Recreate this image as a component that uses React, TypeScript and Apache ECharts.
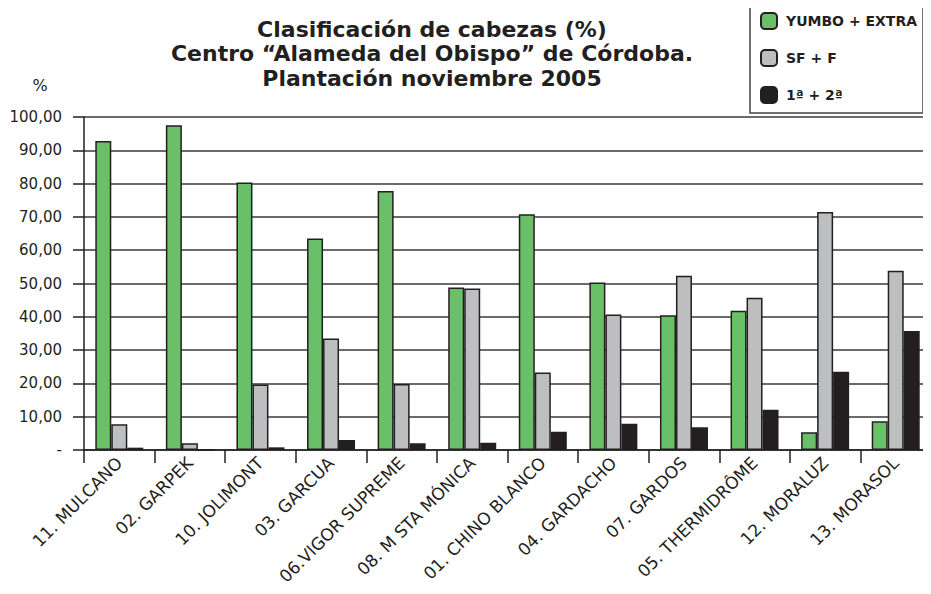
import React, { useEffect, useRef } from "react";
import * as echarts from "echarts";

const categories = [
  "11. MULCANO",
  "02. GARPEK",
  "10. JOLIMONT",
  "03. GARCUA",
  "06.VIGOR SUPREME",
  "08. M STA MÓNICA",
  "01. CHINO BLANCO",
  "04. GARDACHO",
  "07. GARDOS",
  "05. THERMIDRÔME",
  "12. MORALUZ",
  "13. MORASOL",
];

const seriesNames = ["YUMBO + EXTRA", "SF + F", "1ª + 2ª"];

const yumboExtra = [92.8, 97.5, 80.3, 63.5, 77.8, 48.8, 70.8, 50.3, 40.5, 41.8, 5.3, 8.6];
const sfF = [7.7, 2.0, 19.7, 33.5, 19.8, 48.5, 23.3, 40.7, 52.3, 45.7, 71.5, 53.8];
const primeraSegunda = [0.7, 0.0, 0.8, 3.0, 2.0, 2.2, 5.5, 7.9, 6.8, 12.1, 23.5, 35.7];

const yTickLabels = ["-", "10,00", "20,00", "30,00", "40,00", "50,00", "60,00", "70,00", "80,00", "90,00", "100,00"];

const titleText = "Clasificación de cabezas (%)\nCentro “Alameda del Obispo” de Córdoba.\nPlantación noviembre 2005";

const FONT = "'DejaVu Sans', 'Liberation Sans', Arial, sans-serif";
const DARK = "#231f20";

export default function App() {
  const ref = useRef<HTMLDivElement>(null);

  useEffect(() => {
    if (!ref.current) return;
    const chart = echarts.init(ref.current, undefined, { renderer: "svg" });
    const colors = ["#6abf69", "#bcbec0", "#231f20"];
    const data = [yumboExtra, sfF, primeraSegunda];
    chart.setOption({
      animation: false,
      backgroundColor: "#ffffff",
      textStyle: { fontFamily: FONT },
      title: {
        text: titleText,
        left: 427,
        top: 12,
        textAlign: "center",
        textStyle: {
          fontFamily: FONT,
          fontSize: 22,
          fontWeight: "bold",
          color: DARK,
          lineHeight: 24.5,
        },
      },
      legend: {
        orient: "vertical",
        left: 750,
        top: 5,
        padding: [7, 6, 9, 10],
        borderColor: "#444",
        borderWidth: 1.5,
        itemWidth: 16,
        itemHeight: 16,
        itemGap: 19,
        data: seriesNames,
        textStyle: {
          fontFamily: FONT,
          fontSize: 14,
          fontWeight: "bold",
          color: DARK,
          width: 154,
          padding: [0, 4, 0, 4],
        },
      },
      graphic: [
        {
          type: "text",
          x: 40,
          y: 85,
          style: {
            text: "%",
            fontFamily: FONT,
            fontSize: 16,
            fill: DARK,
            textAlign: "center",
            textVerticalAlign: "middle",
          },
        },
      ],
      grid: {
        left: 84,
        top: 117,
        width: 850,
        bottom: 144,
        containLabel: false,
      },
      xAxis: {
        type: "category",
        data: categories,
        axisLine: { show: true, lineStyle: { color: DARK, width: 1.5 } },
        axisTick: { show: true, length: 13, lineStyle: { color: DARK, width: 1.5 } },
        axisLabel: {
          rotate: 45,
          margin: 10,
          interval: 0,
          fontFamily: FONT,
          fontSize: 17,
          color: DARK,
        },
      },
      yAxis: {
        type: "value",
        min: 0,
        max: 100,
        interval: 10,
        axisLine: { show: true, lineStyle: { color: DARK, width: 1.5 } },
        axisTick: { show: true, length: 11, lineStyle: { color: DARK, width: 1.5 } },
        axisLabel: {
          margin: 22,
          fontFamily: FONT,
          fontSize: 15,
          color: DARK,
          formatter: (v: number) => yTickLabels[Math.round(v / 10)],
        },
        splitLine: { show: true, lineStyle: { color: "#3a3a3a", width: 1.5 } },
      },
      series: seriesNames.map((name, i) => ({
        name,
        type: "bar",
        data: data[i],
        barWidth: 16,
        barGap: "0%",
        itemStyle: { color: colors[i], borderColor: DARK, borderWidth: 1.5 },
      })),
    });
    return () => chart.dispose();
  }, []);

  return <div ref={ref} style={{ width: 931, height: 594, margin: -8 }} />;
}
